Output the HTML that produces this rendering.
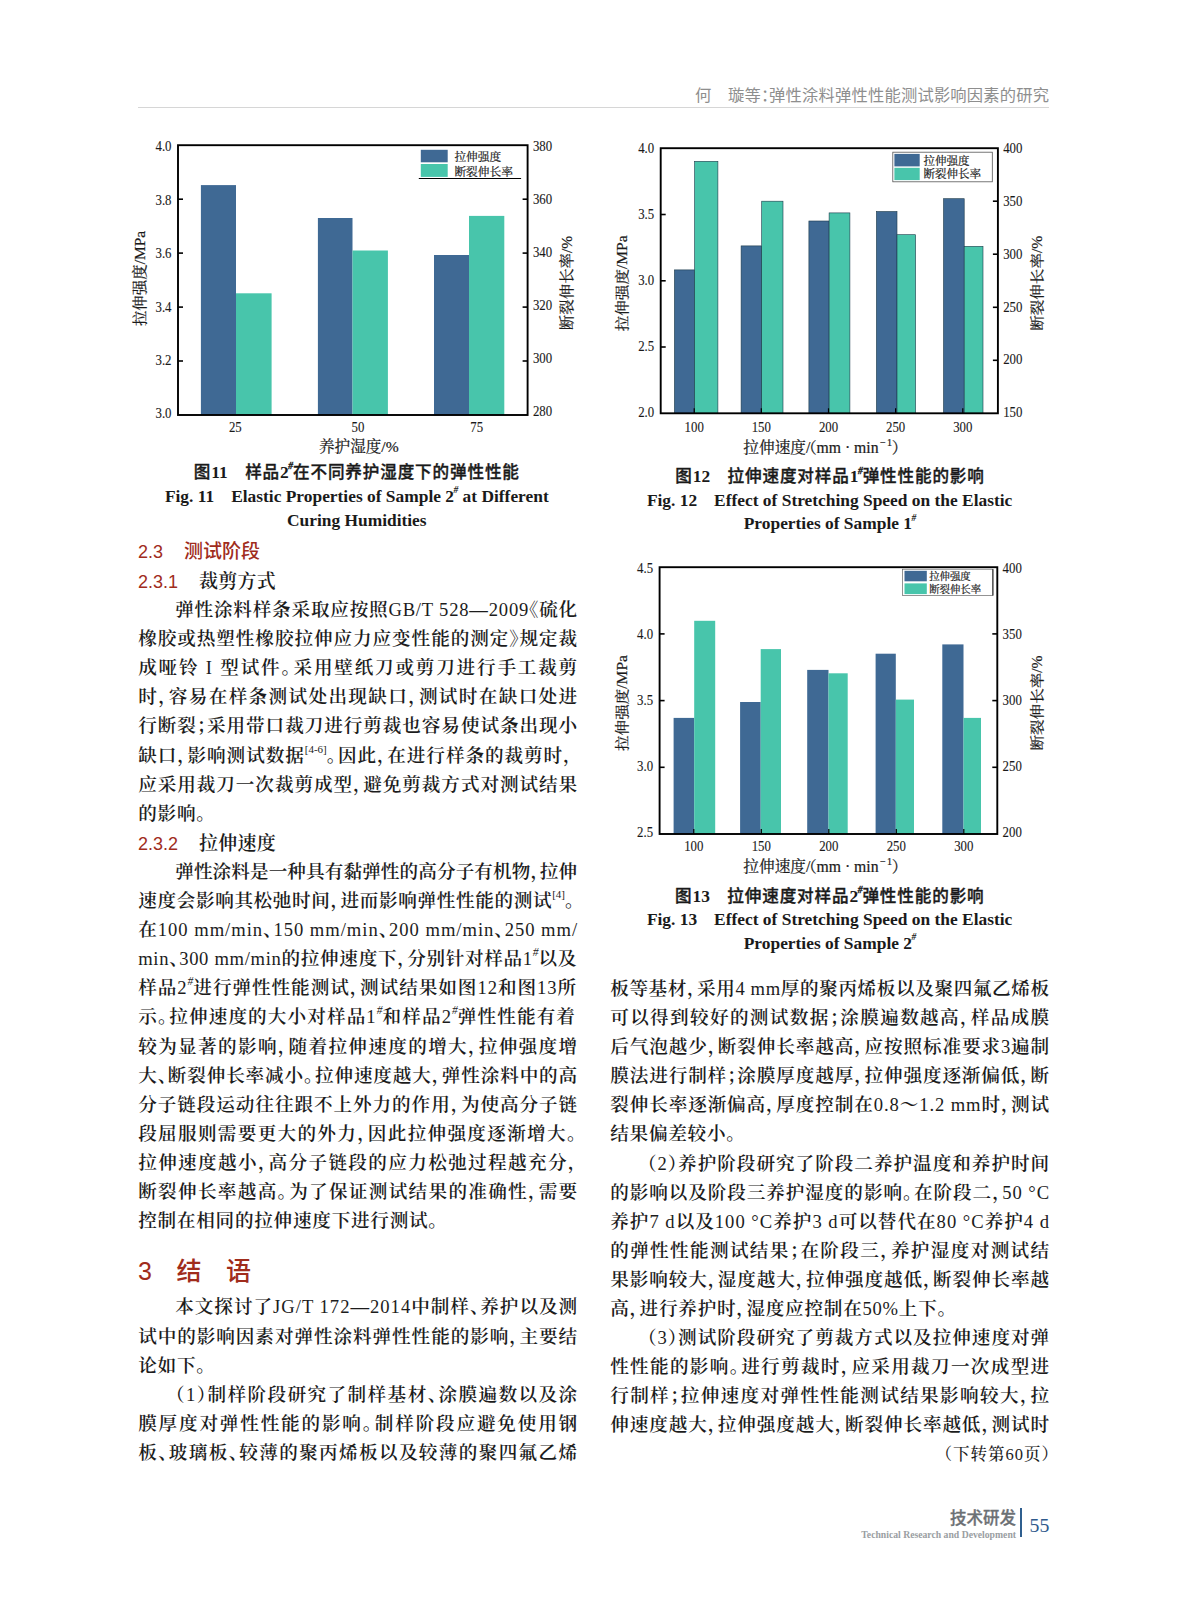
<!DOCTYPE html>
<html lang="zh-CN">
<head>
<meta charset="utf-8">
<title>弹性涂料弹性性能测试影响因素的研究</title>
<style>
html,body{margin:0;padding:0;background:#fff;}
body{width:1187px;height:1600px;position:relative;overflow:hidden;font-family:"Liberation Serif","Noto Serif CJK SC",serif;color:#1c1c1c;}
.ln{position:absolute;width:439px;height:29px;line-height:29px;font-size:18.6px;white-space:nowrap;text-align:left;font-weight:600;}
.ln.ind{width:402px;margin-left:37px;}
.ln.last{letter-spacing:0.75px;}
.ln sup{font-size:11px;line-height:0;vertical-align:9.5px;letter-spacing:0;}
.ln sup.h{font-style:italic;font-size:11.5px;vertical-align:9px;}
.la,.ln sup{font-weight:400;}
.pl{margin-right:-0.5em;}
.pr{margin-left:-0.5em;}
.pd{margin-right:-0.45em;}
.abs{position:absolute;white-space:nowrap;}
.red{color:#a02c1c;}
.sans{font-family:"Liberation Sans","Noto Sans CJK SC",sans-serif;}
.cap{position:absolute;text-align:center;white-space:nowrap;font-weight:bold;color:#1a1a1a;}
.capc{font-family:"Liberation Serif","Noto Sans CJK SC",sans-serif;font-size:17.4px;}
.cape{font-family:"Liberation Serif",serif;font-size:17.4px;}
.capc{font-weight:500;font-size:16.6px;letter-spacing:0.85px;-webkit-text-stroke:0.35px #1a1a1a;}
.capc b{font-weight:700;font-size:17.4px;-webkit-text-stroke:0;letter-spacing:0;}
.cap sup{font-weight:700;font-size:9.5px;line-height:0;vertical-align:8.5px;font-style:italic;letter-spacing:0;margin-left:-0.5px;}
svg{position:absolute;left:0;top:0;}
svg text{font-family:"Liberation Serif","Noto Serif CJK SC",serif;fill:#1a1a1a;}
.tk{font-size:14.4px;stroke:#1a1a1a;stroke-width:0.12px;}
.ax{font-size:15px;stroke:#1a1a1a;stroke-width:0.22px;}
.lg{font-size:11px;stroke:#1a1a1a;stroke-width:0.2px;}
</style>
</head>
<body>
<div class="abs sans" style="left:695px;top:83.3px;height:24px;line-height:24px;font-size:16.3px;color:#8e8e8e;font-weight:400;letter-spacing:0.2px;">何　璇等<span style="display:inline-block;width:0.5em">：</span>弹性涂料弹性性能测试影响因素的研究</div>
<div class="abs" style="left:138px;top:106.5px;width:911px;height:1.5px;background:#d6d6d6;"></div>
<svg width="1187" height="1600" viewBox="0 0 1187 1600">
<rect x="200.9" y="185.1" width="35.1" height="229.9" fill="#3f6994"/>
<rect x="236.0" y="293.3" width="35.6" height="121.7" fill="#48c5ab"/>
<rect x="317.9" y="218.0" width="34.6" height="197.0" fill="#3f6994"/>
<rect x="352.5" y="250.5" width="35.4" height="164.5" fill="#48c5ab"/>
<rect x="434.0" y="255.0" width="35.0" height="160.0" fill="#3f6994"/>
<rect x="469.0" y="215.9" width="35.3" height="199.1" fill="#48c5ab"/>
<rect x="178.0" y="145.2" width="349.6" height="269.8" fill="none" stroke="#000" stroke-width="1.9"/>
<text class="tk" transform="translate(171.5,151.1) scale(0.89,1)" text-anchor="end">4.0</text>
<line x1="178.0" y1="199.2" x2="183.0" y2="199.2" stroke="#000" stroke-width="1.6"/>
<text class="tk" transform="translate(171.5,204.6) scale(0.89,1)" text-anchor="end">3.8</text>
<line x1="178.0" y1="253.1" x2="183.0" y2="253.1" stroke="#000" stroke-width="1.6"/>
<text class="tk" transform="translate(171.5,258.0) scale(0.89,1)" text-anchor="end">3.6</text>
<line x1="178.0" y1="307.1" x2="183.0" y2="307.1" stroke="#000" stroke-width="1.6"/>
<text class="tk" transform="translate(171.5,311.5) scale(0.89,1)" text-anchor="end">3.4</text>
<line x1="178.0" y1="361.0" x2="183.0" y2="361.0" stroke="#000" stroke-width="1.6"/>
<text class="tk" transform="translate(171.5,364.9) scale(0.89,1)" text-anchor="end">3.2</text>
<text class="tk" transform="translate(171.5,418.4) scale(0.89,1)" text-anchor="end">3.0</text>
<text class="tk" transform="translate(532.9,150.5) scale(0.89,1)">380</text>
<line x1="522.6" y1="199.2" x2="527.6" y2="199.2" stroke="#000" stroke-width="1.6"/>
<text class="tk" transform="translate(532.9,203.7) scale(0.89,1)">360</text>
<line x1="522.6" y1="253.1" x2="527.6" y2="253.1" stroke="#000" stroke-width="1.6"/>
<text class="tk" transform="translate(532.9,256.8) scale(0.89,1)">340</text>
<line x1="522.6" y1="307.1" x2="527.6" y2="307.1" stroke="#000" stroke-width="1.6"/>
<text class="tk" transform="translate(532.9,310.0) scale(0.89,1)">320</text>
<line x1="522.6" y1="361.0" x2="527.6" y2="361.0" stroke="#000" stroke-width="1.6"/>
<text class="tk" transform="translate(532.9,363.1) scale(0.89,1)">300</text>
<text class="tk" transform="translate(532.9,416.3) scale(0.89,1)">280</text>
<text class="tk" transform="translate(235.3,432.1) scale(0.89,1)" text-anchor="middle">25</text>
<text class="tk" transform="translate(358.0,432.1) scale(0.89,1)" text-anchor="middle">50</text>
<text class="tk" transform="translate(476.7,432.1) scale(0.89,1)" text-anchor="middle">75</text>
<text class="ax" x="358.8" y="451.5" style="font-size:15.6px" text-anchor="middle">养护湿度/%</text>
<text class="ax" style="font-size:15.0px" transform="translate(145.4,278.5) rotate(-90) scale(1.030,1)" text-anchor="middle">拉伸强度/MPa</text>
<text class="ax" style="font-size:15.0px" transform="translate(572.0,283.0) rotate(-90) scale(1.030,1)" text-anchor="middle">断裂伸长率/%</text>
<rect x="420.8" y="149.8" width="26.9" height="12.5" fill="#3f6994"/>
<rect x="420.8" y="164.0" width="26.9" height="12.9" fill="#48c5ab"/>
<text class="lg" x="454.4" y="161.0" style="font-size:11.7px">拉伸强度</text>
<text class="lg" x="454.4" y="175.5" style="font-size:11.7px">断裂伸长率</text>
<line x1="418.8" y1="178.5" x2="521.1" y2="178.5" stroke="#000" stroke-width="1"/>
<rect x="674.4" y="269.9" width="20.2" height="143.4" fill="#3f6994" stroke="#1d3a4a" stroke-width="0.6"/>
<rect x="694.6" y="161.3" width="23.3" height="252.0" fill="#48c5ab" stroke="#1d3a4a" stroke-width="0.6"/>
<rect x="741.1" y="245.9" width="20.6" height="167.4" fill="#3f6994" stroke="#1d3a4a" stroke-width="0.6"/>
<rect x="761.7" y="201.2" width="21.3" height="212.1" fill="#48c5ab" stroke="#1d3a4a" stroke-width="0.6"/>
<rect x="808.9" y="221.0" width="20.2" height="192.3" fill="#3f6994" stroke="#1d3a4a" stroke-width="0.6"/>
<rect x="829.1" y="212.9" width="20.8" height="200.4" fill="#48c5ab" stroke="#1d3a4a" stroke-width="0.6"/>
<rect x="876.4" y="211.5" width="20.6" height="201.8" fill="#3f6994" stroke="#1d3a4a" stroke-width="0.6"/>
<rect x="897.0" y="234.7" width="18.6" height="178.6" fill="#48c5ab" stroke="#1d3a4a" stroke-width="0.6"/>
<rect x="943.5" y="198.7" width="20.7" height="214.6" fill="#3f6994" stroke="#1d3a4a" stroke-width="0.6"/>
<rect x="964.2" y="246.3" width="18.8" height="167.0" fill="#48c5ab" stroke="#1d3a4a" stroke-width="0.6"/>
<rect x="660.7" y="148.2" width="337.2" height="265.1" fill="none" stroke="#000" stroke-width="1.9"/>
<text class="tk" transform="translate(654.2,153.3) scale(0.89,1)" text-anchor="end">4.0</text>
<line x1="660.7" y1="214.5" x2="665.7" y2="214.5" stroke="#000" stroke-width="1.6"/>
<text class="tk" transform="translate(654.2,219.2) scale(0.89,1)" text-anchor="end">3.5</text>
<line x1="660.7" y1="280.8" x2="665.7" y2="280.8" stroke="#000" stroke-width="1.6"/>
<text class="tk" transform="translate(654.2,285.2) scale(0.89,1)" text-anchor="end">3.0</text>
<line x1="660.7" y1="347.0" x2="665.7" y2="347.0" stroke="#000" stroke-width="1.6"/>
<text class="tk" transform="translate(654.2,351.1) scale(0.89,1)" text-anchor="end">2.5</text>
<text class="tk" transform="translate(654.2,417.0) scale(0.89,1)" text-anchor="end">2.0</text>
<text class="tk" transform="translate(1003.2,153.3) scale(0.89,1)">400</text>
<line x1="992.9" y1="201.2" x2="997.9" y2="201.2" stroke="#000" stroke-width="1.6"/>
<text class="tk" transform="translate(1003.2,206.1) scale(0.89,1)">350</text>
<line x1="992.9" y1="254.2" x2="997.9" y2="254.2" stroke="#000" stroke-width="1.6"/>
<text class="tk" transform="translate(1003.2,258.9) scale(0.89,1)">300</text>
<line x1="992.9" y1="307.3" x2="997.9" y2="307.3" stroke="#000" stroke-width="1.6"/>
<text class="tk" transform="translate(1003.2,311.6) scale(0.89,1)">250</text>
<line x1="992.9" y1="360.3" x2="997.9" y2="360.3" stroke="#000" stroke-width="1.6"/>
<text class="tk" transform="translate(1003.2,364.4) scale(0.89,1)">200</text>
<text class="tk" transform="translate(1003.2,417.2) scale(0.89,1)">150</text>
<text class="tk" transform="translate(694.2,431.6) scale(0.89,1)" text-anchor="middle">100</text>
<line x1="694.2" y1="408.3" x2="694.2" y2="413.3" stroke="#000" stroke-width="1.2"/>
<text class="tk" transform="translate(761.3,431.6) scale(0.89,1)" text-anchor="middle">150</text>
<line x1="761.3" y1="408.3" x2="761.3" y2="413.3" stroke="#000" stroke-width="1.2"/>
<text class="tk" transform="translate(828.5,431.6) scale(0.89,1)" text-anchor="middle">200</text>
<line x1="828.5" y1="408.3" x2="828.5" y2="413.3" stroke="#000" stroke-width="1.2"/>
<text class="tk" transform="translate(895.6,431.6) scale(0.89,1)" text-anchor="middle">250</text>
<line x1="895.6" y1="408.3" x2="895.6" y2="413.3" stroke="#000" stroke-width="1.2"/>
<text class="tk" transform="translate(962.8,431.6) scale(0.89,1)" text-anchor="middle">300</text>
<line x1="962.8" y1="408.3" x2="962.8" y2="413.3" stroke="#000" stroke-width="1.2"/>
<text class="ax" x="743.3" y="453.0" style="font-size:15.7px">拉伸速度/<tspan dx="-9.5">（</tspan>mm · min<tspan dy="-7" dx="1.5" style="font-size:10px;letter-spacing:1.5px">−1</tspan><tspan dy="7" dx="-2">）</tspan></text>
<text class="ax" style="font-size:13.9px" transform="translate(626.5,283.3) rotate(-90) scale(1.120,1)" text-anchor="middle">拉伸强度/MPa</text>
<text class="ax" style="font-size:13.9px" transform="translate(1042.0,283.3) rotate(-90) scale(1.120,1)" text-anchor="middle">断裂伸长率/%</text>
<rect x="892.8" y="152.2" width="99.5" height="29.6" fill="#fff" stroke="#555" stroke-width="0.8"/>
<rect x="894.4" y="153.9" width="25.3" height="12.5" fill="#3f6994"/>
<rect x="894.4" y="167.8" width="25.3" height="12.3" fill="#48c5ab"/>
<text class="lg" x="923.5" y="164.5" style="font-size:11.5px">拉伸强度</text>
<text class="lg" x="923.5" y="178.3" style="font-size:11.5px">断裂伸长率</text>
<rect x="673.6" y="717.9" width="20.6" height="116.1" fill="#3f6994"/>
<rect x="694.2" y="620.8" width="21.0" height="213.2" fill="#48c5ab"/>
<rect x="740.1" y="702.0" width="20.6" height="132.0" fill="#3f6994"/>
<rect x="760.7" y="649.1" width="20.3" height="184.9" fill="#48c5ab"/>
<rect x="807.2" y="669.9" width="21.3" height="164.1" fill="#3f6994"/>
<rect x="828.5" y="673.3" width="19.2" height="160.7" fill="#48c5ab"/>
<rect x="875.6" y="653.7" width="20.2" height="180.3" fill="#3f6994"/>
<rect x="895.8" y="699.6" width="18.2" height="134.4" fill="#48c5ab"/>
<rect x="942.3" y="644.4" width="21.2" height="189.6" fill="#3f6994"/>
<rect x="963.5" y="717.9" width="17.5" height="116.1" fill="#48c5ab"/>
<rect x="659.6" y="567.2" width="337.7" height="266.8" fill="none" stroke="#000" stroke-width="1.9"/>
<text class="tk" transform="translate(653.1,573.3) scale(0.89,1)" text-anchor="end">4.5</text>
<line x1="659.6" y1="633.9" x2="664.6" y2="633.9" stroke="#000" stroke-width="1.6"/>
<text class="tk" transform="translate(653.1,639.1) scale(0.89,1)" text-anchor="end">4.0</text>
<line x1="659.6" y1="700.6" x2="664.6" y2="700.6" stroke="#000" stroke-width="1.6"/>
<text class="tk" transform="translate(653.1,704.9) scale(0.89,1)" text-anchor="end">3.5</text>
<line x1="659.6" y1="767.3" x2="664.6" y2="767.3" stroke="#000" stroke-width="1.6"/>
<text class="tk" transform="translate(653.1,770.7) scale(0.89,1)" text-anchor="end">3.0</text>
<text class="tk" transform="translate(653.1,836.5) scale(0.89,1)" text-anchor="end">2.5</text>
<text class="tk" transform="translate(1002.6,573.3) scale(0.89,1)">400</text>
<line x1="992.3" y1="633.9" x2="997.3" y2="633.9" stroke="#000" stroke-width="1.6"/>
<text class="tk" transform="translate(1002.6,639.1) scale(0.89,1)">350</text>
<line x1="992.3" y1="700.6" x2="997.3" y2="700.6" stroke="#000" stroke-width="1.6"/>
<text class="tk" transform="translate(1002.6,704.9) scale(0.89,1)">300</text>
<line x1="992.3" y1="767.3" x2="997.3" y2="767.3" stroke="#000" stroke-width="1.6"/>
<text class="tk" transform="translate(1002.6,770.7) scale(0.89,1)">250</text>
<text class="tk" transform="translate(1002.6,836.5) scale(0.89,1)">200</text>
<text class="tk" transform="translate(693.8,850.5) scale(0.89,1)" text-anchor="middle">100</text>
<line x1="693.8" y1="829.0" x2="693.8" y2="834.0" stroke="#000" stroke-width="1.2"/>
<text class="tk" transform="translate(761.3,850.5) scale(0.89,1)" text-anchor="middle">150</text>
<line x1="761.3" y1="829.0" x2="761.3" y2="834.0" stroke="#000" stroke-width="1.2"/>
<text class="tk" transform="translate(828.8,850.5) scale(0.89,1)" text-anchor="middle">200</text>
<line x1="828.8" y1="829.0" x2="828.8" y2="834.0" stroke="#000" stroke-width="1.2"/>
<text class="tk" transform="translate(896.3,850.5) scale(0.89,1)" text-anchor="middle">250</text>
<line x1="896.3" y1="829.0" x2="896.3" y2="834.0" stroke="#000" stroke-width="1.2"/>
<text class="tk" transform="translate(963.8,850.5) scale(0.89,1)" text-anchor="middle">300</text>
<line x1="963.8" y1="829.0" x2="963.8" y2="834.0" stroke="#000" stroke-width="1.2"/>
<text class="ax" x="743.3" y="871.5" style="font-size:15.7px">拉伸速度/<tspan dx="-9.5">（</tspan>mm · min<tspan dy="-7" dx="1.5" style="font-size:10px;letter-spacing:1.5px">−1</tspan><tspan dy="7" dx="-2">）</tspan></text>
<text class="ax" style="font-size:13.9px" transform="translate(626.5,703.0) rotate(-90) scale(1.120,1)" text-anchor="middle">拉伸强度/MPa</text>
<text class="ax" style="font-size:13.9px" transform="translate(1041.8,703.0) rotate(-90) scale(1.120,1)" text-anchor="middle">断裂伸长率/%</text>
<rect x="902.5" y="569.2" width="90.4" height="26.3" fill="#fff" stroke="#666" stroke-width="0.7"/>
<rect x="904.5" y="570.8" width="22.3" height="10.5" fill="#3f6994"/>
<rect x="904.5" y="583.4" width="22.3" height="10.7" fill="#48c5ab"/>
<text class="lg" x="929.2" y="580.1" style="font-size:10.4px">拉伸强度</text>
<text class="lg" x="929.2" y="592.8" style="font-size:10.4px">断裂伸长率</text>
<line x1="992.9" y1="569.2" x2="992.9" y2="595.5" stroke="#222" stroke-width="1"/>
</svg>
<div class="cap capc" style="left:106.8px;top:459.7px;width:500px;height:24px;line-height:24px;">图<b>11</b>　样品<b>2</b><sup>#</sup>在不同养护湿度下的弹性性能</div>
<div class="cap cape" style="left:106.8px;top:483.9px;width:500px;height:24px;line-height:24px;">Fig. 11　Elastic Properties of Sample 2<sup>#</sup> at Different</div>
<div class="cap cape" style="left:106.8px;top:507.5px;width:500px;height:24px;line-height:24px;">Curing Humidities</div>
<div class="cap capc" style="left:580.0px;top:464.0px;width:500px;height:24px;line-height:24px;">图<b>12</b>　拉伸速度对样品<b>1</b><sup>#</sup>弹性性能的影响</div>
<div class="cap cape" style="left:579.6px;top:487.5px;width:500px;height:24px;line-height:24px;">Fig. 12　Effect of Stretching Speed on the Elastic</div>
<div class="cap cape" style="left:580.0px;top:511.0px;width:500px;height:24px;line-height:24px;">Properties of Sample 1<sup>#</sup></div>
<div class="cap capc" style="left:579.8px;top:883.5px;width:500px;height:24px;line-height:24px;">图<b>13</b>　拉伸速度对样品<b>2</b><sup>#</sup>弹性性能的影响</div>
<div class="cap cape" style="left:579.6px;top:907.0px;width:500px;height:24px;line-height:24px;">Fig. 13　Effect of Stretching Speed on the Elastic</div>
<div class="cap cape" style="left:580.0px;top:930.5px;width:500px;height:24px;line-height:24px;">Properties of Sample 2<sup>#</sup></div>
<div class="abs" style="left:138.0px;top:538.2px;height:28px;line-height:28px;font-size:19.0px;"><span class="red sans" style="font-size:18px">2.3</span><span class="red sans" style="font-weight:500;margin-left:21px">测试阶段</span></div>
<div class="abs" style="left:138.0px;top:567.8px;height:28px;line-height:28px;font-size:19.0px;"><span class="red sans" style="font-size:18px">2.3.1</span><span style="margin-left:21px;letter-spacing:0.2px;font-weight:600">裁剪方式</span></div>
<div class="abs" style="left:138.0px;top:829.5px;height:28px;line-height:28px;font-size:19.0px;"><span class="red sans" style="font-size:18px">2.3.2</span><span style="margin-left:21px;letter-spacing:0.2px;font-weight:600">拉伸速度</span></div>
<div class="abs" style="left:138.0px;top:1252.9px;height:36px;line-height:36px;font-size:25.0px;"><span class="red sans" style="font-size:25px;font-weight:500">3</span><span class="red sans" style="font-weight:500;font-size:25px;position:absolute;left:38.5px">结</span><span class="red sans" style="font-weight:500;font-size:25px;position:absolute;left:88px">语</span></div>
<div class="ln ind" style="left:138.2px;top:595.0px;letter-spacing:0.792px;">弹性涂料样条采取应按照<span class="la">GB/T 528</span>—<span class="la">2009</span><span class="pr">《</span>硫化</div>
<div class="ln" style="left:138.2px;top:624.1px;letter-spacing:0.936px;">橡胶或热塑性橡胶拉伸应力应变性能的测定<span class="pl">》</span>规定裁</div>
<div class="ln" style="left:138.2px;top:653.2px;letter-spacing:1.798px;">成哑铃 <span class="la">I </span>型试件<span class="pd">。</span>采用壁纸刀或剪刀进行手工裁剪</div>
<div class="ln" style="left:138.2px;top:682.3px;letter-spacing:1.357px;">时<span class="pl">，</span>容易在样条测试处出现缺口<span class="pl">，</span>测试时在缺口处进</div>
<div class="ln" style="left:138.2px;top:711.4px;letter-spacing:0.936px;">行断裂<span class="pl">；</span>采用带口裁刀进行剪裁也容易使试条出现小</div>
<div class="ln" style="left:138.2px;top:740.5px;letter-spacing:0.943px;">缺口<span class="pl">，</span>影响测试数据<sup>[4-6]</sup><span class="pd">。</span>因此<span class="pl">，</span>在进行样条的裁剪时<span class="pl">，</span></div>
<div class="ln" style="left:138.2px;top:769.6px;letter-spacing:0.936px;">应采用裁刀一次裁剪成型<span class="pl">，</span>避免剪裁方式对测试结果</div>
<div class="ln last" style="left:138.2px;top:798.7px;">的影响<span class="pd">。</span></div>
<div class="ln ind" style="left:138.2px;top:856.9px;letter-spacing:0.104px;">弹性涂料是一种具有黏弹性的高分子有机物<span class="pl">，</span>拉伸</div>
<div class="ln" style="left:138.2px;top:886.0px;letter-spacing:0.644px;">速度会影响其松弛时间<span class="pl">，</span>进而影响弹性性能的测试<sup>[4]</sup><span class="pd">。</span></div>
<div class="ln" style="left:138.2px;top:915.1px;letter-spacing:0.978px;">在<span class="la">100 mm/min</span><span class="pl">、</span><span class="la">150 mm/min</span><span class="pl">、</span><span class="la">200 mm/min</span><span class="pl">、</span><span class="la">250 mm/</span></div>
<div class="ln" style="left:138.2px;top:944.2px;letter-spacing:0.682px;"><span class="la">min</span><span class="pl">、</span><span class="la">300 mm/min</span>的拉伸速度下<span class="pl">，</span>分别针对样品<span class="la">1</span><sup class="h">#</sup>以及</div>
<div class="ln" style="left:138.2px;top:973.3px;letter-spacing:0.964px;">样品<span class="la">2</span><sup class="h">#</sup>进行弹性性能测试<span class="pl">，</span>测试结果如图<span class="la">12</span>和图<span class="la">13</span>所</div>
<div class="ln" style="left:138.2px;top:1002.4px;letter-spacing:1.113px;">示<span class="pd">。</span>拉伸速度的大小对样品<span class="la">1</span><sup class="h">#</sup>和样品<span class="la">2</span><sup class="h">#</sup>弹性性能有着</div>
<div class="ln" style="left:138.2px;top:1031.5px;letter-spacing:1.357px;">较为显著的影响<span class="pl">，</span>随着拉伸速度的增大<span class="pl">，</span>拉伸强度增</div>
<div class="ln" style="left:138.2px;top:1060.6px;letter-spacing:0.852px;">大<span class="pl">、</span>断裂伸长率减小<span class="pd">。</span>拉伸速度越大<span class="pl">，</span>弹性涂料中的高</div>
<div class="ln" style="left:138.2px;top:1089.7px;letter-spacing:0.936px;">分子链段运动往往跟不上外力的作用<span class="pl">，</span>为使高分子链</div>
<div class="ln" style="left:138.2px;top:1118.8px;letter-spacing:1.315px;">段屈服则需要更大的外力<span class="pl">，</span>因此拉伸强度逐渐增大<span class="pd">。</span></div>
<div class="ln" style="left:138.2px;top:1147.9px;letter-spacing:1.358px;">拉伸速度越小<span class="pl">，</span>高分子链段的应力松弛过程越充分<span class="pl">，</span></div>
<div class="ln" style="left:138.2px;top:1177.0px;letter-spacing:1.315px;">断裂伸长率越高<span class="pd">。</span>为了保证测试结果的准确性<span class="pl">，</span>需要</div>
<div class="ln last" style="left:138.2px;top:1206.1px;">控制在相同的拉伸速度下进行测试<span class="pd">。</span></div>
<div class="ln ind" style="left:138.2px;top:1292.4px;letter-spacing:0.990px;">本文探讨了<span class="la">JG/T 172</span>—<span class="la">2014</span>中制样<span class="pl">、</span>养护以及测</div>
<div class="ln" style="left:138.2px;top:1321.5px;letter-spacing:0.936px;">试中的影响因素对弹性涂料弹性性能的影响<span class="pl">，</span>主要结</div>
<div class="ln last" style="left:138.2px;top:1350.6px;">论如下<span class="pd">。</span></div>
<div class="ln ind" style="left:138.2px;top:1379.7px;letter-spacing:1.431px;"><span class="pr">（</span><span class="la">1</span><span class="pl">）</span>制样阶段研究了制样基材<span class="pl">、</span>涂膜遍数以及涂</div>
<div class="ln" style="left:138.2px;top:1408.8px;letter-spacing:1.821px;">膜厚度对弹性性能的影响<span class="pd">。</span>制样阶段应避免使用钢</div>
<div class="ln" style="left:138.2px;top:1437.9px;letter-spacing:1.357px;">板<span class="pl">、</span>玻璃板<span class="pl">、</span>较薄的聚丙烯板以及较薄的聚四氟乙烯</div>
<div class="ln" style="left:610.2px;top:973.9px;letter-spacing:0.620px;">板等基材<span class="pl">，</span>采用<span class="la">4 mm</span>厚的聚丙烯板以及聚四氟乙烯板</div>
<div class="ln" style="left:610.2px;top:1003.0px;letter-spacing:1.357px;">可以得到较好的测试数据<span class="pl">；</span>涂膜遍数越高<span class="pl">，</span>样品成膜</div>
<div class="ln" style="left:610.2px;top:1032.1px;letter-spacing:0.893px;">后气泡越少<span class="pl">，</span>断裂伸长率越高<span class="pl">，</span>应按照标准要求<span class="la">3</span>遍制</div>
<div class="ln" style="left:610.2px;top:1061.2px;letter-spacing:0.893px;">膜法进行制样<span class="pl">；</span>涂膜厚度越厚<span class="pl">，</span>拉伸强度逐渐偏低<span class="pl">，</span>断</div>
<div class="ln" style="left:610.2px;top:1090.3px;letter-spacing:0.894px;">裂伸长率逐渐偏高<span class="pl">，</span>厚度控制在<span class="la">0.8</span>～<span class="la">1.2 mm</span>时<span class="pl">，</span>测试</div>
<div class="ln last" style="left:610.2px;top:1119.4px;">结果偏差较小<span class="pd">。</span></div>
<div class="ln ind" style="left:610.2px;top:1148.5px;letter-spacing:0.990px;"><span class="pr">（</span><span class="la">2</span><span class="pl">）</span>养护阶段研究了阶段二养护温度和养护时间</div>
<div class="ln" style="left:610.2px;top:1177.6px;letter-spacing:0.921px;">的影响以及阶段三养护湿度的影响<span class="pd">。</span>在阶段二<span class="pl">，</span><span class="la">50 °C</span></div>
<div class="ln" style="left:610.2px;top:1206.7px;letter-spacing:0.999px;">养护<span class="la">7 d</span>以及<span class="la">100 °C</span>养护<span class="la">3 d</span>可以替代在<span class="la">80 °C</span>养护<span class="la">4 d</span></div>
<div class="ln" style="left:610.2px;top:1235.8px;letter-spacing:1.357px;">的弹性性能测试结果<span class="pl">；</span>在阶段三<span class="pl">，</span>养护湿度对测试结</div>
<div class="ln" style="left:610.2px;top:1264.9px;letter-spacing:0.893px;">果影响较大<span class="pl">，</span>湿度越大<span class="pl">，</span>拉伸强度越低<span class="pl">，</span>断裂伸长率越</div>
<div class="ln last" style="left:610.2px;top:1294.0px;">高<span class="pl">，</span>进行养护时<span class="pl">，</span>湿度应控制在<span class="la">50%</span>上下<span class="pd">。</span></div>
<div class="ln ind" style="left:610.2px;top:1323.1px;letter-spacing:0.990px;"><span class="pr">（</span><span class="la">3</span><span class="pl">）</span>测试阶段研究了剪裁方式以及拉伸速度对弹</div>
<div class="ln" style="left:610.2px;top:1352.2px;letter-spacing:1.315px;">性性能的影响<span class="pd">。</span>进行剪裁时<span class="pl">，</span>应采用裁刀一次成型进</div>
<div class="ln" style="left:610.2px;top:1381.3px;letter-spacing:1.357px;">行制样<span class="pl">；</span>拉伸速度对弹性性能测试结果影响较大<span class="pl">，</span>拉</div>
<div class="ln" style="left:610.2px;top:1410.4px;letter-spacing:0.893px;">伸速度越大<span class="pl">，</span>拉伸强度越大<span class="pl">，</span>断裂伸长率越低<span class="pl">，</span>测试时</div>
<div class="abs" style="left:750px;width:309px;text-align:right;top:1439.8px;height:29px;line-height:29px;font-size:16.5px;letter-spacing:1px;font-weight:500;">（下转第<span style="font-weight:400">60</span>页）</div>
<div class="abs sans" style="left:800px;width:216px;text-align:right;top:1505.5px;height:24px;line-height:24px;font-size:16.5px;font-weight:500;color:#6c7074;-webkit-text-stroke:0.3px #6c7074;">技术研发</div>
<div class="abs" style="left:760px;width:256px;text-align:right;top:1529.2px;height:12px;line-height:12px;font-size:9.7px;font-weight:700;color:#9a9ea2;">Technical Research and Development</div>
<div class="abs" style="left:1019.6px;top:1508px;width:2.2px;height:29px;background:#2f5f8f;"></div>
<div class="abs" style="left:1029.5px;top:1511px;height:28px;line-height:28px;font-size:19.8px;color:#2f5a8c;">55</div>
</body>
</html>
